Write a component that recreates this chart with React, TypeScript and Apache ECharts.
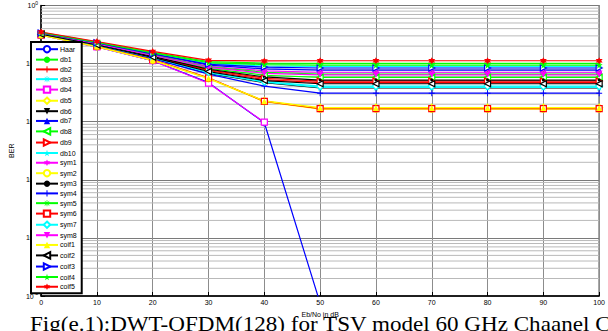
import React, { useEffect, useRef } from "react";
import * as echarts from "echarts";

const xValues = [0, 10, 20, 30, 40, 50, 60, 70, 80, 90, 100];

const haar = [0.31, 0.194, 0.112, 0.047, 0.0096, 7.5e-6, null, null, null, null, null];
const db1 = [0.345, 0.235, 0.156, 0.108, 0.102, 0.101, 0.101, 0.101, 0.101, 0.101, 0.101];
const db2 = [0.322, 0.211, 0.13, 0.076, 0.053, 0.047, 0.047, 0.047, 0.047, 0.047, 0.047];
const db3 = [0.34, 0.23, 0.15, 0.1, 0.091, 0.089, 0.089, 0.089, 0.089, 0.089, 0.089];
const db4 = [0.31, 0.194, 0.112, 0.046, 0.0098, null, null, null, null, null, null];
const db5 = [0.31, 0.197, 0.115, 0.056, 0.0228, 0.0175, 0.0175, 0.0175, 0.0175, 0.0175, 0.0175];
const db6 = [0.316, 0.204, 0.124, 0.068, 0.047, 0.038, 0.038, 0.038, 0.038, 0.038, 0.038];
const db7 = [0.335, 0.226, 0.145, 0.094, 0.081, 0.077, 0.077, 0.077, 0.077, 0.077, 0.077];
const db8 = [0.327, 0.217, 0.135, 0.083, 0.063, 0.058, 0.058, 0.058, 0.058, 0.058, 0.058];
const db9 = [0.325, 0.213, 0.132, 0.078, 0.056, 0.05, 0.05, 0.05, 0.05, 0.05, 0.05];
const db10 = [0.318, 0.206, 0.125, 0.069, 0.048, 0.039, 0.039, 0.039, 0.039, 0.039, 0.039];
const sym1 = [0.332, 0.223, 0.142, 0.09, 0.075, 0.071, 0.071, 0.071, 0.071, 0.071, 0.071];
const sym2 = [0.31, 0.195, 0.114, 0.055, 0.0222, 0.0165, 0.0165, 0.0165, 0.0165, 0.0165, 0.0165];
const sym3 = [0.325, 0.215, 0.133, 0.08, 0.059, 0.052, 0.052, 0.052, 0.052, 0.052, 0.052];
const sym4 = [0.315, 0.202, 0.122, 0.066, 0.041, 0.031, 0.031, 0.031, 0.031, 0.031, 0.031];
const sym5 = [0.33, 0.221, 0.14, 0.088, 0.071, 0.066, 0.066, 0.066, 0.066, 0.066, 0.066];
const sym6 = [0.312, 0.199, 0.117, 0.057, 0.0224, 0.0168, 0.0168, 0.0168, 0.0168, 0.0168, 0.0168];
const sym7 = [0.32, 0.207, 0.126, 0.071, 0.049, 0.041, 0.041, 0.041, 0.041, 0.041, 0.041];
const sym8 = [0.33, 0.219, 0.138, 0.086, 0.068, 0.064, 0.064, 0.064, 0.064, 0.064, 0.064];
const coif1 = [0.31, 0.196, 0.115, 0.056, 0.0226, 0.0172, 0.0172, 0.0172, 0.0172, 0.0172, 0.0172];
const coif2 = [0.32, 0.209, 0.128, 0.073, 0.051, 0.045, 0.045, 0.045, 0.045, 0.045, 0.045];
const coif3 = [0.336, 0.228, 0.147, 0.097, 0.087, 0.084, 0.084, 0.084, 0.084, 0.084, 0.084];
const coif4 = [0.34, 0.232, 0.153, 0.104, 0.096, 0.094, 0.094, 0.094, 0.094, 0.094, 0.094];
const coif5 = [0.35, 0.24, 0.162, 0.114, 0.111, 0.112, 0.112, 0.112, 0.112, 0.112, 0.112];

const seriesNames = [
  "Haar", "db1", "db2", "db3", "db4", "db5", "db6", "db7", "db8", "db9", "db10",
  "sym1", "sym2", "sym3", "sym4", "sym5", "sym6", "sym7", "sym8",
  "coif1", "coif2", "coif3", "coif4", "coif5",
];
const seriesValues = [
  haar, db1, db2, db3, db4, db5, db6, db7, db8, db9, db10,
  sym1, sym2, sym3, sym4, sym5, sym6, sym7, sym8,
  coif1, coif2, coif3, coif4, coif5,
];

const caption = "Fig(e.1):DWT-OFDM(128) for TSV model 60 GHz Chaanel CM15";

const COLORS = ["#0000FF", "#00FF00", "#FF0000", "#00FFFF", "#FF00FF", "#FFFF00", "#000000"];
const PLUS = "path://M42,0H58V42H100V58H58V100H42V58H0V42H42Z";
const ASTER = "path://M45,0H55V38L82,11L89,18L62,45H100V55H62L89,82L82,89L55,62V100H45V62L18,89L11,82L38,55H0V45H38L11,18L18,11L45,38Z";
const PENTA = "path://M50,0L61,35L98,35L68,57L79,91L50,70L21,91L32,57L2,35L39,35Z";
const HEXA = "path://M50,0L62,25L93,25L75,50L93,75L62,75L50,100L38,75L7,75L25,50L7,25L38,25Z";

type Mk = { symbol: string; size: number; rotate: number; hollow: boolean };
const MARKERS: Mk[] = [
  { symbol: "circle", size: 6, rotate: 0, hollow: true },
  { symbol: "circle", size: 3, rotate: 0, hollow: false },
  { symbol: PLUS, size: 6, rotate: 0, hollow: false },
  { symbol: ASTER, size: 6, rotate: 0, hollow: false },
  { symbol: "rect", size: 6, rotate: 0, hollow: true },
  { symbol: "diamond", size: 7, rotate: 0, hollow: true },
  { symbol: "triangle", size: 6, rotate: 180, hollow: false },
  { symbol: "triangle", size: 6, rotate: 0, hollow: false },
  { symbol: "triangle", size: 6, rotate: 90, hollow: true },
  { symbol: "triangle", size: 6, rotate: -90, hollow: true },
  { symbol: PENTA, size: 7, rotate: 0, hollow: false },
  { symbol: HEXA, size: 7, rotate: 0, hollow: false },
];

const minorGrid: number[] = [];
for (let e = -5; e < 0; e++) {
  for (let m = 2; m <= 9; m++) minorGrid.push(m * Math.pow(10, e));
}

export default function App() {
  const ref = useRef<HTMLDivElement>(null);
  useEffect(() => {
    if (!ref.current) return;
    const chart = echarts.init(ref.current, undefined, { renderer: "svg" });
    const series: any[] = [];
    minorGrid.forEach((v) => {
      series.push({
        type: "line",
        data: [[0, v], [100, v]],
        z: 1,
        silent: true,
        showSymbol: false,
        symbol: "none",
        lineStyle: { color: "#b9b9b9", width: 1 },
        emphasis: { disabled: true },
        tooltip: { show: false },
      });
    });
    seriesNames.forEach((name, i) => {
      const color = COLORS[i % 7];
      const mk = MARKERS[i % 12];
      series.push({
        name,
        type: "line",
        data: xValues.map((x, j) => [x, seriesValues[i][j]]),
        symbol: mk.symbol,
        symbolSize: mk.size,
        symbolRotate: mk.rotate,
        showSymbol: true,
        connectNulls: false,
        z: 3,
        lineStyle: { color, width: 1.2 },
        itemStyle: {
          color: mk.hollow ? "#ffffff" : color,
          borderColor: color,
          borderWidth: mk.hollow ? 1.2 : 0,
        },
        emphasis: { disabled: true },
      });
    });
    const axisFont = { fontFamily: "Liberation Sans, Arial", color: "#000" };
    chart.setOption({
      animation: false,
      backgroundColor: "#ffffff",
      grid: {
        left: 31,
        right: 2,
        top: 3,
        bottom: 35,
        show: true,
        borderColor: "#000",
        borderWidth: 1,
        backgroundColor: "transparent",
      },
      legend: {
        data: seriesNames,
        orient: "vertical",
        left: 31,
        top: 42,
        z: 10,
        itemWidth: 22,
        itemHeight: 8,
        itemGap: 2.75,
        padding: [3, 5, 3, 4],
        backgroundColor: "#ffffff",
        borderColor: "#000000",
        borderWidth: 2,
        borderRadius: 0,
        textStyle: { fontSize: 7, padding: [0, 0, 0, -3], ...axisFont },
        selectedMode: false,
      },
      xAxis: {
        type: "value",
        min: 0,
        max: 100,
        interval: 10,
        name: "Eb/No in dB",
        nameLocation: "middle",
        nameGap: 12,
        nameTextStyle: { fontSize: 7, verticalAlign: "top", ...axisFont },
        axisLine: { onZero: false, lineStyle: { color: "#000", width: 1.5 } },
        axisTick: { inside: true, length: 4, lineStyle: { color: "#000" } },
        axisLabel: { fontSize: 7, margin: 3, ...axisFont },
        splitLine: { show: true, lineStyle: { color: "#8c8c8c", width: 1 } },
      },
      yAxis: {
        type: "log",
        logBase: 10,
        min: 1e-5,
        max: 1,
        name: "BER",
        nameLocation: "middle",
        nameGap: 21,
        nameTextStyle: { fontSize: 7, ...axisFont },
        axisLine: { show: true, onZero: false, lineStyle: { color: "#000", width: 1.5 } },
        axisTick: { inside: true, length: 4, lineStyle: { color: "#000" } },
        axisLabel: {
          margin: 3,
          formatter: (v: number) => `{b|10}{s|${Math.round(Math.log10(v))}}`,
          rich: {
            b: { fontSize: 7, ...axisFont },
            s: { fontSize: 5, padding: [0, 0, 6, 0], ...axisFont },
          },
        },
        splitLine: { show: true, lineStyle: { color: "#7a7a7a", width: 1 } },
      },
      graphic: [
        {
          type: "text",
          x: 30,
          y: 313,
          scaleX: 1.1,
          z: 20,
          style: {
            text: caption,
            fontSize: 21,
            fontFamily: "Liberation Serif",
            fill: "#000",
          },
        },
      ],
      series,
    });
    return () => chart.dispose();
  }, []);
  return (
    <div
      ref={ref}
      style={{ position: "fixed", left: 0, top: 0, width: 608, height: 331 }}
    />
  );
}
